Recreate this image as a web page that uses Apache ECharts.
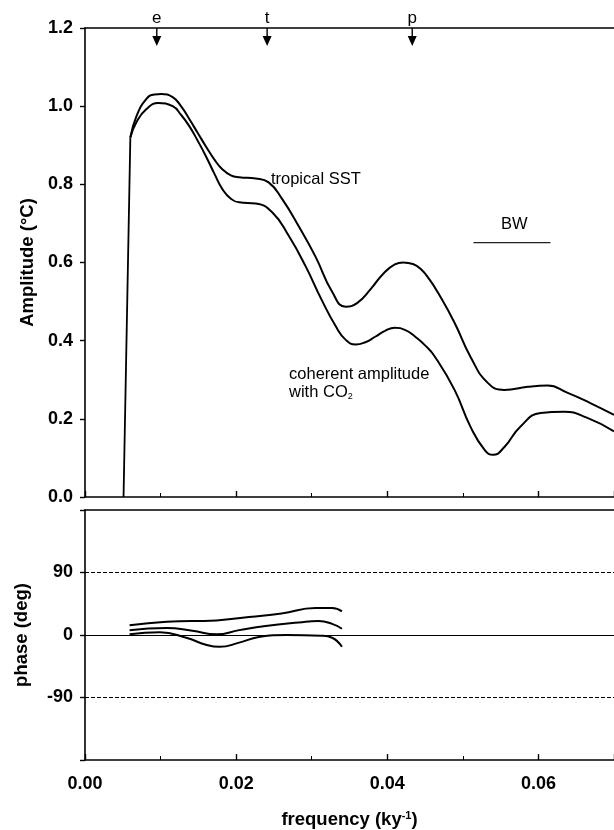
<!DOCTYPE html>
<html>
<head>
<meta charset="utf-8">
<script src="https://cdn.jsdelivr.net/npm/echarts@6/dist/echarts.min.js"></script>
<style>
html, body { margin: 0; padding: 0; background: #fff; }
#chart { width: 614px; height: 830px; }
</style>
</head>
<body>
<div id="chart"></div>
<script>
// amplitude spectra (top panel)
var freqSST = [0.0060, 0.0068, 0.0081, 0.0092, 0.0101, 0.0116, 0.0127, 0.0138, 0.0149, 0.0160, 0.0171, 0.0182, 0.0193, 0.0204, 0.0226, 0.0243, 0.0261, 0.0283, 0.0305, 0.0327, 0.0345, 0.0360, 0.0378, 0.0395, 0.0410, 0.0421, 0.0434, 0.0445, 0.0456, 0.0467, 0.0489, 0.0510, 0.0533, 0.0555, 0.0586, 0.0612, 0.0638, 0.0668, 0.0700];
var ampSST = [0.92, 0.974, 1.018, 1.030, 1.031, 1.023, 1.000, 0.967, 0.932, 0.897, 0.864, 0.838, 0.823, 0.818, 0.815, 0.805, 0.762, 0.692, 0.615, 0.525, 0.487, 0.496, 0.532, 0.572, 0.595, 0.600, 0.596, 0.582, 0.556, 0.523, 0.446, 0.359, 0.292, 0.274, 0.282, 0.285, 0.267, 0.241, 0.21];
var freqCoh = [0.0060, 0.0068, 0.0081, 0.0097, 0.0116, 0.0127, 0.0138, 0.0149, 0.0160, 0.0171, 0.0182, 0.0193, 0.0204, 0.0226, 0.0248, 0.0270, 0.0292, 0.0313, 0.0332, 0.0345, 0.0358, 0.0371, 0.0384, 0.0397, 0.0410, 0.0424, 0.0437, 0.0450, 0.0463, 0.0489, 0.0510, 0.0529, 0.0540, 0.0555, 0.0576, 0.0603, 0.0634, 0.0664, 0.0700];
var ampCoh = [0.92, 0.959, 0.992, 1.008, 1.0, 0.978, 0.949, 0.912, 0.872, 0.828, 0.787, 0.763, 0.754, 0.751, 0.728, 0.667, 0.59, 0.505, 0.436, 0.402, 0.39, 0.396, 0.41, 0.425, 0.433, 0.427, 0.41, 0.388, 0.359, 0.274, 0.18, 0.12, 0.108, 0.128, 0.18, 0.215, 0.218, 0.203, 0.168];
// the common steep rise at the low-frequency end
var riseFreq = [0.0051, 0.0060];
var riseAmp = [0.0, 0.92];

// phase (bottom panel)
var freqPhA = [0.0059, 0.0108, 0.0174, 0.0217, 0.0260, 0.0305, 0.0327, 0.0340];
var phaseA = [14, 19, 21, 26, 31, 39, 39, 34];
var freqPhB = [0.0059, 0.0108, 0.0142, 0.0174, 0.0204, 0.0239, 0.0283, 0.0309, 0.0327, 0.0340];
var phaseB = [7, 10, 6, 1, 7, 13, 18, 20, 16, 9];
var freqPhC = [0.0059, 0.0099, 0.0134, 0.0160, 0.0178, 0.0204, 0.0230, 0.0266, 0.0313, 0.0327, 0.0340];
var phaseC = [1, 4, -4, -14, -17, -11, -3, 0, -1, -4, -17];

// orbital frequencies marked with arrows
var orbitNames = ['e', 't', 'p'];
var orbitFreq = [0.0095, 0.0241, 0.0433];
var arrowLevel = 1.177;

// bandwidth bar
var bwFreq = [0.0514, 0.0616];
var bwLevel = 0.651;

var phaseTicks = ['90', '0', '-90'];

function pairs(xs, ys) {
	var out = [];
	for (var i = 0; i < xs.length; i++) {
		out.push([xs[i], ys[i]]);
	}
	return out;
}

var font = "'Liberation Sans', Arial, sans-serif";
var black = '#000';

var chart = echarts.init(document.getElementById('chart'));

function xAx(grid, pos, showLabels, opts) {
	var a = {
		type: 'value',
		gridIndex: grid,
		position: pos,
		min: 0,
		max: 0.07,
		interval: 0.02,
		axisLine: { show: true, onZero: false, lineStyle: { color: black, width: 1.6 } },
		axisTick: { show: showLabels !== null, inside: true, length: 6, lineStyle: { color: black, width: 1.4 } },
		minorTick: { show: showLabels !== null, splitNumber: 2, length: 4, lineStyle: { color: black, width: 1 } },
		axisLabel: {
			show: !!showLabels,
			margin: 15,
			color: black,
			fontFamily: font,
			fontWeight: 'bold',
			fontSize: 18,
			formatter: function(v) { return v.toFixed(2); },
			showMaxLabel: false
		},
		splitLine: { show: false }
	};
	if (opts) {
		for (var k in opts) a[k] = opts[k];
	}
	return a;
}

var arrowPath = 'path://M3.8,0 H5.2 V8 H9 L4.5,18 L0,8 H3.8 Z';

var option = {
	backgroundColor: '#fff',
	animation: false,
	grid: [
		{ left: 85, right: -3, top: 28, height: 469 },
		{ left: 85, right: -3, top: 510, height: 252 }
	],
	xAxis: [
		xAx(0, 'bottom', false),
		xAx(0, 'top', null),
		xAx(1, 'bottom', true, {
			name: 'frequency (ky{sup|-1})',
			nameLocation: 'middle',
			nameGap: 50,
			nameTextStyle: {
				color: black,
				fontFamily: font,
				fontWeight: 'bold',
				fontSize: 18.5,
				rich: {
					sup: { fontSize: 11, fontWeight: 'bold', fontFamily: font, verticalAlign: 'top', padding: [0, 0, 8, 0] }
				}
			}
		}),
		xAx(1, 'top', null)
	],
	yAxis: [
		{
			type: 'value',
			gridIndex: 0,
			min: 0,
			max: 1.2,
			interval: 0.2,
			name: 'Amplitude (°C)',
			nameLocation: 'middle',
			nameGap: 40,
			nameTextStyle: { color: black, fontFamily: font, fontWeight: 'bold', fontSize: 18.5 },
			axisLine: { show: true, lineStyle: { color: black, width: 1.6 } },
			axisTick: { show: true, length: 5, lineStyle: { color: black, width: 1.4 } },
			axisLabel: {
				margin: 12,
				color: black,
				fontFamily: font,
				fontWeight: 'bold',
				fontSize: 18,
				formatter: function(v) { return v.toFixed(1); }
			},
			splitLine: { show: false }
		},
		{
			type: 'value',
			gridIndex: 1,
			min: -180,
			max: 180,
			interval: 90,
			name: 'phase (deg)',
			nameLocation: 'middle',
			nameGap: 54,
			nameTextStyle: { color: black, fontFamily: font, fontWeight: 'bold', fontSize: 18.5 },
			axisLine: { show: true, lineStyle: { color: black, width: 1.6 } },
			axisTick: { show: true, length: 5, lineStyle: { color: black, width: 1.4 } },
			axisLabel: {
				margin: 12,
				color: black,
				fontFamily: font,
				fontWeight: 'bold',
				fontSize: 18,
				formatter: function(v) {
					var s = String(v);
					return phaseTicks.indexOf(s) >= 0 ? s : '';
				}
			},
			splitLine: { show: false }
		}
	],
	series: [
		{
			name: 'rise',
			type: 'line',
			xAxisIndex: 0,
			yAxisIndex: 0,
			data: pairs(riseFreq, riseAmp),
			symbol: 'none',
			lineStyle: { color: black, width: 1.8 }
		},
		{
			name: 'tropical SST',
			type: 'line',
			xAxisIndex: 0,
			yAxisIndex: 0,
			data: pairs(freqSST, ampSST),
			smooth: 0.5,
			symbol: 'none',
			lineStyle: { color: black, width: 2 }
		},
		{
			name: 'coherent amplitude',
			type: 'line',
			xAxisIndex: 0,
			yAxisIndex: 0,
			data: pairs(freqCoh, ampCoh),
			smooth: 0.5,
			symbol: 'none',
			lineStyle: { color: black, width: 2 }
		},
		{
			name: 'BW',
			type: 'line',
			xAxisIndex: 0,
			yAxisIndex: 0,
			data: pairs(bwFreq, [bwLevel, bwLevel]),
			symbol: 'none',
			lineStyle: { color: '#222', width: 1.2 }
		},
		{
			name: 'orbital',
			type: 'scatter',
			xAxisIndex: 0,
			yAxisIndex: 0,
			symbol: arrowPath,
			symbolSize: [9, 18],
			itemStyle: { color: black, opacity: 1 },
			data: orbitFreq.map(function(f, i) {
				return { value: [f, arrowLevel], name: orbitNames[i] };
			}),
			label: {
				show: true,
				position: 'top',
				distance: 1,
				formatter: '{b}',
				color: black,
				fontFamily: font,
				fontSize: 17
			}
		},
		{
			name: 'labels',
			type: 'scatter',
			xAxisIndex: 0,
			yAxisIndex: 0,
			symbolSize: 0,
			itemStyle: { opacity: 1 },
			data: [
				{ value: [0.0246, 0.813], name: 'tropical SST', label: { position: 'right', distance: 0 } },
				{ value: [0.0270, 0.313], name: 'coherent amplitude', label: { position: 'right', distance: 0 } },
				{ value: [0.0270, 0.267], name: 'with CO{sub|2}', label: { position: 'right', distance: 0 } },
				{ value: [0.0568, 0.697], name: 'BW', label: { position: 'inside' } }
			],
			label: {
				show: true,
				formatter: '{b}',
				color: black,
				fontFamily: font,
				fontSize: 16.5,
				rich: {
					sub: { fontSize: 9, fontFamily: font, color: black, verticalAlign: 'bottom', padding: [6, 0, 0, 0] }
				}
			}
		},
		{
			name: 'phase A',
			type: 'line',
			xAxisIndex: 2,
			yAxisIndex: 1,
			data: pairs(freqPhA, phaseA),
			smooth: 0.5,
			symbol: 'none',
			lineStyle: { color: black, width: 2 },
			markLine: {
				silent: true,
				symbol: 'none',
				label: { show: false },
				data: [
					{ yAxis: 90, lineStyle: { type: [4, 2], color: black, width: 1 } },
					{ yAxis: 0, lineStyle: { type: 'solid', color: black, width: 1.2 } },
					{ yAxis: -90, lineStyle: { type: [4, 2], color: black, width: 1 } }
				]
			}
		},
		{
			name: 'phase B',
			type: 'line',
			xAxisIndex: 2,
			yAxisIndex: 1,
			data: pairs(freqPhB, phaseB),
			smooth: 0.5,
			symbol: 'none',
			lineStyle: { color: black, width: 2 }
		},
		{
			name: 'phase C',
			type: 'line',
			xAxisIndex: 2,
			yAxisIndex: 1,
			data: pairs(freqPhC, phaseC),
			smooth: 0.5,
			symbol: 'none',
			lineStyle: { color: black, width: 2 }
		}
	]
};

chart.setOption(option);
</script>
</body>
</html>
